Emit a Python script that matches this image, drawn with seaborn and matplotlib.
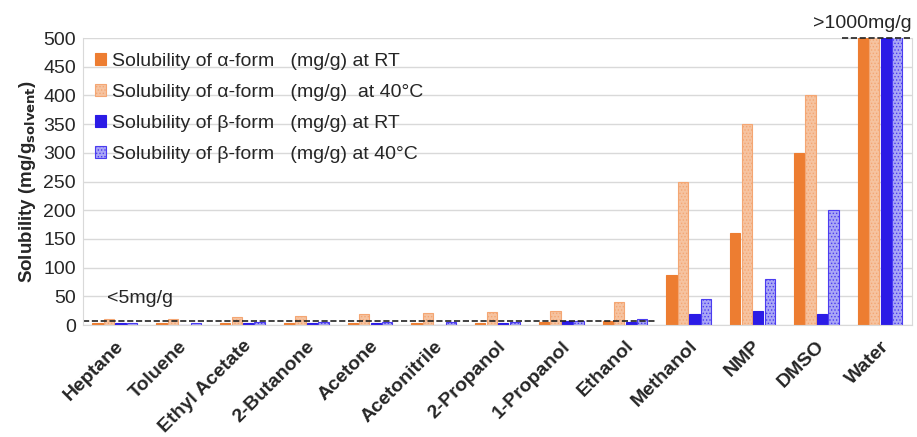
import numpy as np
import pandas as pd
import matplotlib
matplotlib.use('Agg')
import matplotlib.pyplot as plt
import seaborn as sns

solvents = ['Heptane', 'Toluene', 'Ethyl Acetate', '2-Butanone', 'Acetone',
            'Acetonitrile', '2-Propanol', '1-Propanol', 'Ethanol', 'Methanol',
            'NMP', 'DMSO', 'Water']
alpha_rt = [3, 3, 3, 3, 3, 3, 3, 6, 8, 88, 160, 300, 1000]
alpha_40 = [10, 10, 14, 16, 19, 21, 23, 25, 40, 250, 350, 400, 1000]
beta_rt = [3, 1, 3, 3, 3, 1, 3, 8, 5, 20, 25, 20, 1000]
beta_40 = [4, 4, 6, 5, 5, 5, 5, 7, 10, 45, 80, 200, 1000]
series = ['Solubility of \u03b1-form   (mg/g) at RT',
          'Solubility of \u03b1-form   (mg/g)  at 40\u00b0C',
          'Solubility of \u03b2-form   (mg/g) at RT',
          'Solubility of \u03b2-form   (mg/g) at 40\u00b0C']
low_limit = 7
high_limit = 500

df = pd.DataFrame({
    'solvent': solvents * 4,
    'series': np.repeat(series, len(solvents)),
    'value': alpha_rt + alpha_40 + beta_rt + beta_40,
})

sns.set_style('white')
plt.rcParams['font.family'] = ['Liberation Sans', 'DejaVu Sans']
plt.rcParams['hatch.linewidth'] = 0.6

fig = plt.figure(figsize=(9.17, 4.37), dpi=100)
ax = fig.add_axes([0.0905, 0.256, 0.904, 0.657])

fills = ['#ED7D31', '#F6C3A0', '#2B1BE6', '#A9A6F6']
edges = ['#ED7D31', '#F4A673', '#2B1BE6', '#4B3CF0']
hatches = [None, '.....', None, '.....']
sns.barplot(data=df, x='solvent', y='value', hue='series', palette=fills,
            width=0.72, gap=0.1, ax=ax, saturation=1, legend=True)
for i, cont in enumerate(ax.containers):
    for p in cont:
        p.set_edgecolor(edges[i])
        p.set_linewidth(0.8)
        if hatches[i]:
            p.set_hatch(hatches[i])

ax.set_ylim(0, 500)
ax.set_xlim(-0.5, len(solvents) - 0.5)
ax.set_yticks(range(0, 501, 50))
ax.yaxis.grid(True, color='#D9D9D9', lw=1)
ax.set_axisbelow(True)
for s in ['left', 'bottom', 'right']:
    ax.spines[s].set_color('#D9D9D9')
ax.spines['top'].set_visible(False)
ax.tick_params(axis='y', length=0, labelsize=14, pad=5)
ax.tick_params(axis='x', length=0, pad=9)
ax.set_xticks(range(len(solvents)))
ax.set_xticklabels(solvents, rotation=45, ha='right', rotation_mode='anchor',
                   fontweight='bold', fontsize=14)
ax.set_xlabel('')
ax.set_ylabel('Solubility (mg/g$_{\\mathbf{solvent}}$)', fontsize=13.5,
              fontweight='bold', labelpad=4)

ax.plot([-0.5, 8.5], [low_limit, low_limit], ls='--', color='#222222', lw=1.2)
ax.plot([11.41, 12.5], [high_limit, high_limit], ls='--', color='#222222',
        lw=1.2, clip_on=False)
ax.text(-0.12, 47, '<5mg/g', fontsize=14, va='center', ha='left')
ax.text(12.5, 510, '>1000mg/g', fontsize=14, va='bottom', ha='right')

leg = ax.legend(loc='upper left', bbox_to_anchor=(0.0, 0.99), frameon=False,
                fontsize=14, handlelength=0.6, handleheight=0.6,
                handletextpad=0.3, labelspacing=0.72, borderaxespad=0.2)
for i, h in enumerate(leg.legend_handles):
    h.set_edgecolor(edges[i])
    h.set_linewidth(0.8)
    if hatches[i]:
        h.set_hatch(hatches[i])

fig.savefig('out.png', dpi=100)
